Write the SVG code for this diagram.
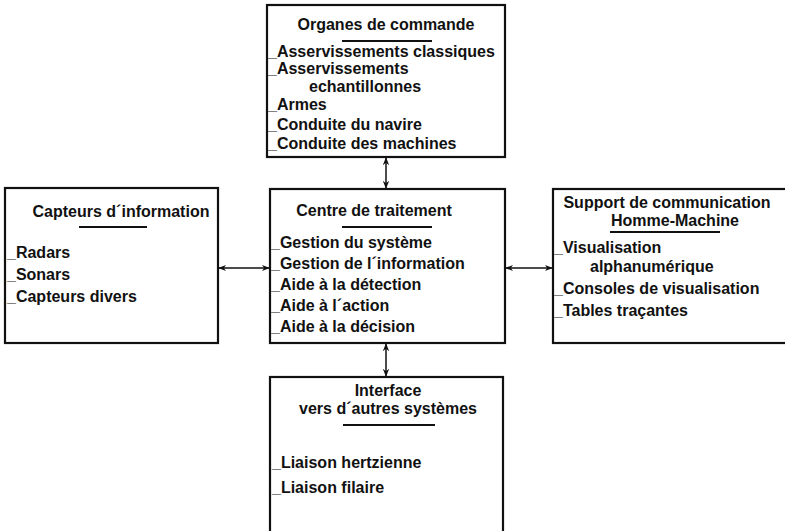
<svg xmlns="http://www.w3.org/2000/svg" width="785" height="531" viewBox="0 0 785 531">
<defs>
<marker id="ah" viewBox="0 0 10 10" refX="9" refY="5" markerWidth="8" markerHeight="8" markerUnits="userSpaceOnUse" orient="auto-start-reverse">
<path d="M0,1 L10,5 L0,9 L3,5 Z" fill="#111"/>
</marker>
</defs>
<style>
.box{fill:#fff;stroke:#111;stroke-width:2.2}
.t{font-family:"Liberation Sans",Arial,sans-serif;font-size:16px;font-weight:bold;fill:#111}
.c{text-anchor:middle}
.u{stroke:#111;stroke-width:2}
.conn{stroke:#111;stroke-width:1.5;fill:none;marker-start:url(#ah);marker-end:url(#ah)}
</style>
<rect width="785" height="531" fill="#fff"/>
<g id="organes">
<rect class="box" x="267" y="5" width="238" height="152"/>
<text class="t c" x="386" y="30">Organes de commande</text>
<line class="u" x1="342" y1="41" x2="432" y2="41"/>
<text class="t" x="268" y="57">_Asservissements classiques</text>
<text class="t" x="268" y="74">_Asservissements</text>
<text class="t" x="309" y="92">echantillonnes</text>
<text class="t" x="268" y="110">_Armes</text>
<text class="t" x="268" y="130">_Conduite du navire</text>
<text class="t" x="268" y="149">_Conduite des machines</text>
</g>
<g id="capteurs">
<rect class="box" x="5" y="188" width="213" height="155"/>
<text class="t c" x="121" y="217">Capteurs d´information</text>
<line class="u" x1="79" y1="227" x2="147" y2="227"/>
<text class="t" x="7" y="258">_Radars</text>
<text class="t" x="7" y="280">_Sonars</text>
<text class="t" x="7" y="302">_Capteurs divers</text>
</g>
<g id="centre">
<rect class="box" x="270" y="189" width="235" height="154"/>
<text class="t c" x="374" y="216">Centre de traitement</text>
<line class="u" x1="342" y1="227" x2="432" y2="227"/>
<text class="t" x="271" y="248">_Gestion du système</text>
<text class="t" x="271" y="269">_Gestion de l´information</text>
<text class="t" x="271" y="290">_Aide à la détection</text>
<text class="t" x="271" y="311">_Aide à l´action</text>
<text class="t" x="271" y="332">_Aide à la décision</text>
</g>
<g id="support">
<rect class="box" x="553" y="189" width="240" height="154"/>
<text class="t c" x="667" y="208">Support de communication</text>
<text class="t c" x="675" y="226">Homme-Machine</text>
<line class="u" x1="610" y1="232" x2="720" y2="232"/>
<text class="t" x="554" y="253">_Visualisation</text>
<text class="t" x="590" y="272">alphanumérique</text>
<text class="t" x="554" y="294">_Consoles de visualisation</text>
<text class="t" x="554" y="316">_Tables traçantes</text>
</g>
<g id="interface">
<rect class="box" x="270" y="377" width="233" height="170"/>
<text class="t c" x="388" y="396">Interface</text>
<text class="t c" x="388" y="414">vers d´autres systèmes</text>
<line class="u" x1="343" y1="425" x2="435" y2="425"/>
<text class="t" x="272" y="468">_Liaison hertzienne</text>
<text class="t" x="272" y="493">_Liaison filaire</text>
</g>
<g id="connectors">
<line class="conn" x1="386" y1="158" x2="386" y2="188"/>
<line class="conn" x1="219" y1="268" x2="269" y2="268"/>
<line class="conn" x1="506" y1="268" x2="552" y2="268"/>
<line class="conn" x1="386" y1="344" x2="386" y2="376"/>
</g>
</svg>
